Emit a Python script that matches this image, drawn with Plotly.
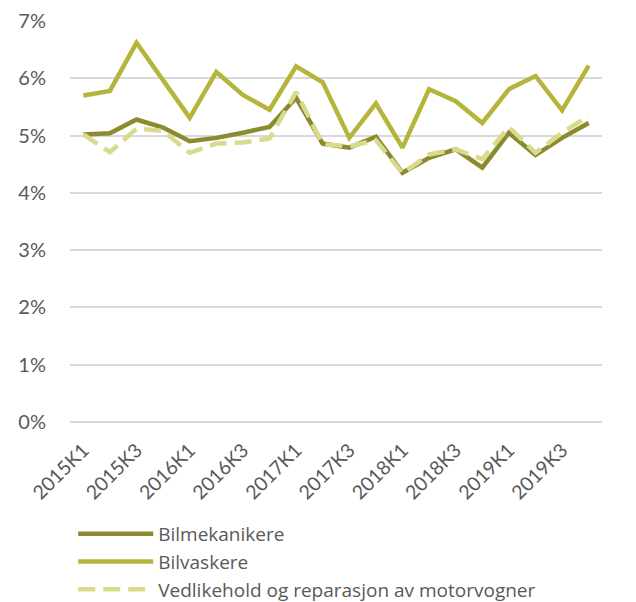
import plotly.graph_objects as go

quarters = [f"{y}K{q}" for y in range(2015, 2020) for q in range(1, 5)]
tick_labels = quarters[::2]

bilmekanikere = [5.02, 5.04, 5.28, 5.14, 4.90, 4.96, 5.05, 5.15, 5.66, 4.86,
                 4.79, 4.98, 4.35, 4.61, 4.76, 4.44, 5.05, 4.66, 4.96, 5.22]
bilvaskere = [5.70, 5.78, 6.62, 5.97, 5.31, 6.11, 5.71, 5.45, 6.21, 5.93,
              4.96, 5.56, 4.79, 5.81, 5.60, 5.22, 5.81, 6.04, 5.44, 6.22]
vedlikehold = [5.02, 4.71, 5.12, 5.08, 4.70, 4.86, 4.88, 4.95, 5.76, 4.85,
               4.81, 4.92, 4.34, 4.67, 4.76, 4.59, 5.15, 4.70, 5.05, 5.34]

series = [
    ("Bilmekanikere", bilmekanikere, "#8B8A2F", "solid"),
    ("Bilvaskere", bilvaskere, "#B5B43B", "solid"),
    ("Vedlikehold og reparasjon av motorvogner", vedlikehold, "#DADA8C", "17px,8px"),
]

fig = go.Figure()
for name, vals, color, dash in series:
    fig.add_trace(go.Scatter(
        x=quarters, y=[v / 100 for v in vals], name=name, mode="lines",
        line=dict(color=color, width=4.5, dash=dash),
    ))

font_family = "Lato, 'Open Sans', sans-serif"
fig.update_layout(
    width=636, height=602,
    margin=dict(l=62, r=42, t=13, b=188),
    paper_bgcolor="white", plot_bgcolor="white",
    font=dict(family=font_family, size=18, color="#595959"),
    showlegend=True,
    legend=dict(
        orientation="v", x=0.006, xanchor="left", xref="paper",
        y=1 - 507 / 602, yanchor="top", yref="container",
        font=dict(family="'Open Sans', Lato, sans-serif", size=19, color="#595959"),
        itemwidth=75, tracegroupgap=0, bgcolor="rgba(0,0,0,0)",
    ),
    xaxis=dict(
        type="category", tickmode="array", tickvals=tick_labels, ticktext=tick_labels,
        range=[-0.5, len(quarters) - 0.5],
        tickangle=-45, showgrid=False, showline=False, ticks="",
        tickfont=dict(size=19.5, color="#595959"), automargin=False,
        ticklabelstandoff=12,
    ),
    yaxis=dict(
        range=[0, 0.07], dtick=0.01, tickformat=".0%", showgrid=True,
        gridcolor="#D9D9D9", gridwidth=1.5, zeroline=True, zerolinecolor="#D9D9D9",
        zerolinewidth=1.5, showline=False, ticks="", ticklen=0,
        tickfont=dict(size=20, color="#595959"), automargin=False,
        ticklabelstandoff=23,
    ),
)

fig.write_html("out.html")
